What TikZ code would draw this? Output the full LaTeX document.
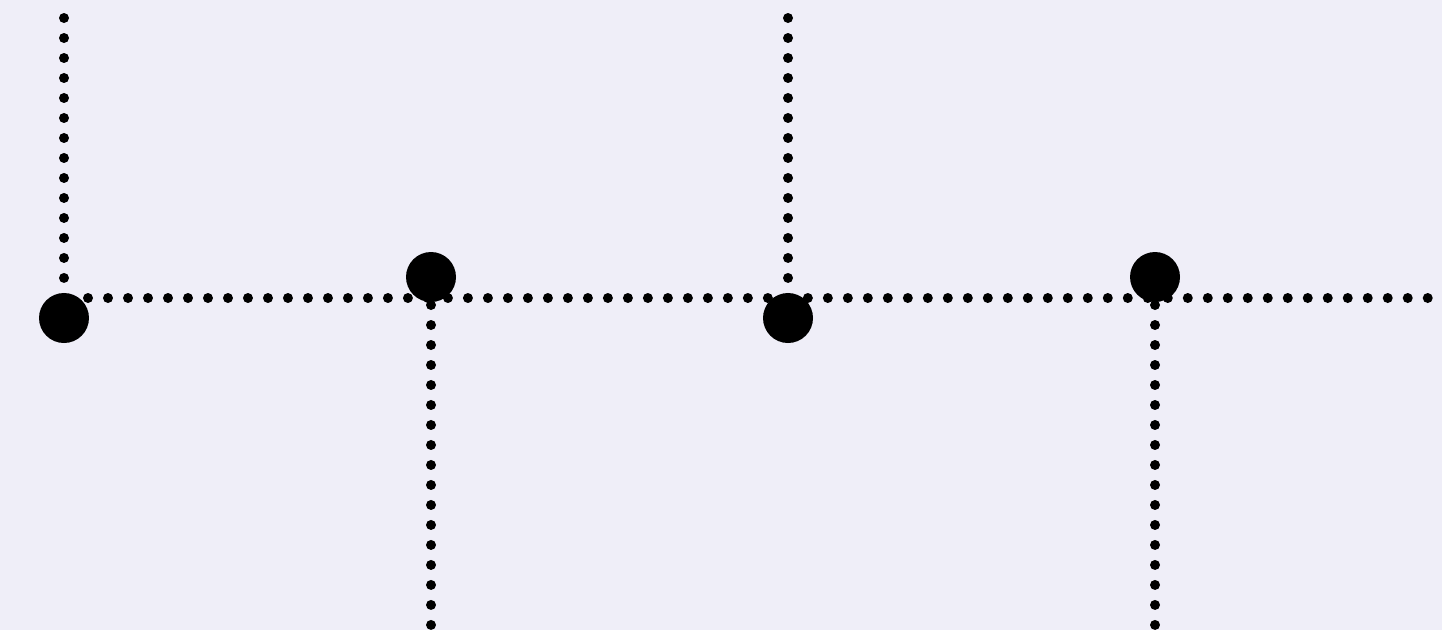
\documentclass[tikz,border=0pt]{standalone}
\definecolor{bg}{HTML}{EFEEF8}
\tikzset{
  dotline/.style={line width=0.2cm, line cap=round, dash pattern=on 0pt off 0.4cm, black},
  bigdot/.style={circle, fill=black, inner sep=0pt, minimum size=1cm}
}
\begin{document}
\begin{tikzpicture}[x=0.02cm, y=-0.02cm]
\fill[bg] (0,0) rectangle (1442,630);
\useasboundingbox (0,0) rectangle (1442,630);
% coordinates
\coordinate (t1) at (64,18);
\coordinate (j1) at (64,298);
\coordinate (t2) at (788,18);
\coordinate (j2) at (788,298);
\coordinate (h0) at (88,298);
\coordinate (hend) at (1448,298);
\coordinate (b1s) at (431,305);
\coordinate (b1) at (431,630);
\coordinate (b2s) at (1155,305);
\coordinate (b2) at (1155,630);
% dotted lines
\draw[dotline] (t1) -- (j1);
\draw[dotline] (t2) -- (j2);
\draw[dotline] (h0) -- (hend);
\draw[dotline] (b1s) -- (b1);
\draw[dotline] (b2s) -- (b2);
% big dots
\node[bigdot] (d1) at (64,318) {};
\node[bigdot] (d2) at (431,277) {};
\node[bigdot] (d3) at (788,318) {};
\node[bigdot] (d4) at (1155,277) {};
\end{tikzpicture}
\end{document}
